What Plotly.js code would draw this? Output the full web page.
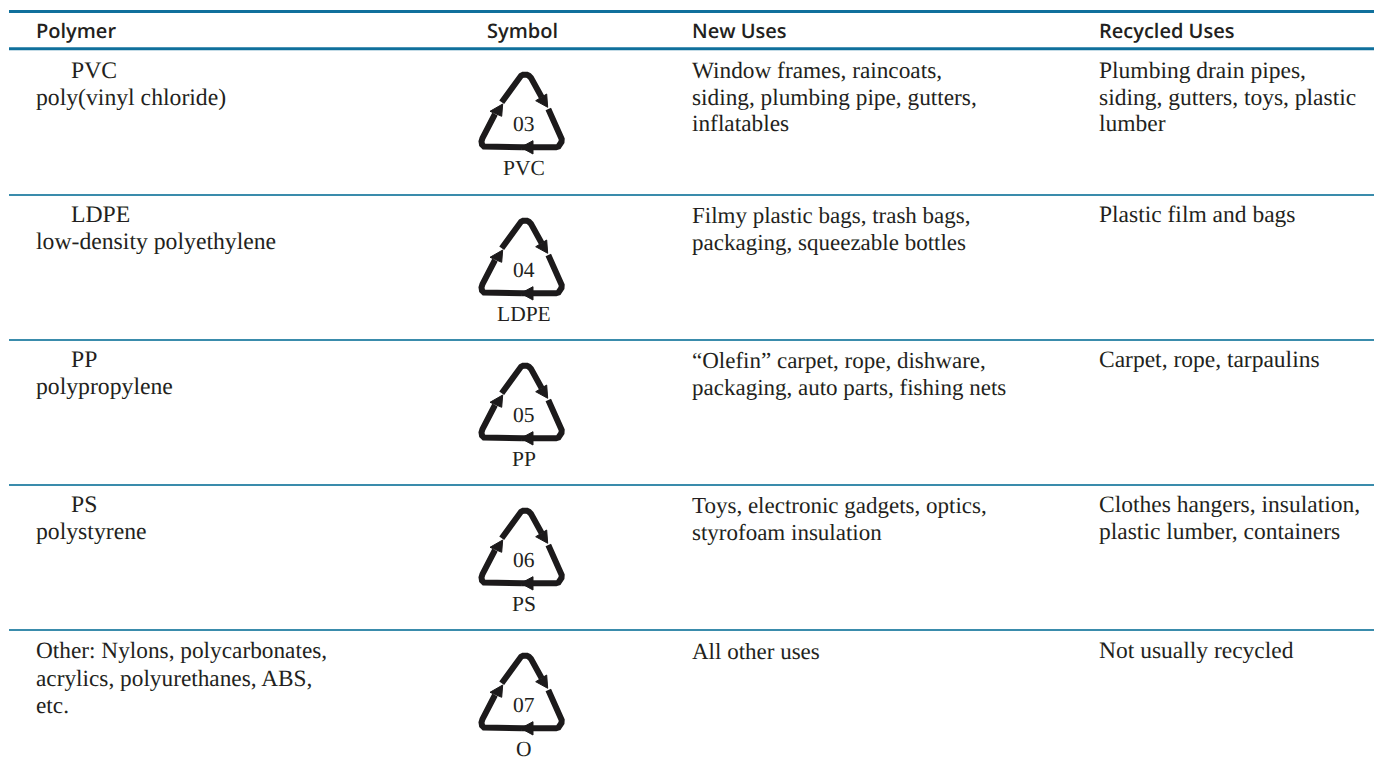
<!DOCTYPE html>
<html><head><meta charset="utf-8">
<script src="https://cdn.plot.ly/plotly-3.0.1.min.js"></script>
<style>html,body{margin:0;padding:0;background:#fff}#c{width:1374px;height:770px}svg text{text-rendering:geometricPrecision}</style>
</head><body><div id="c"></div>
<script>
const headers = ["Polymer","Symbol","New Uses","Recycled Uses"];
const polymerLines = [["PVC","poly(vinyl chloride)"],["LDPE","low-density polyethylene"],["PP","polypropylene"],["PS","polystyrene"],["Other: Nylons, polycarbonates,","acrylics, polyurethanes, ABS,","etc."]];
const codes = ["03","04","05","06","07"];
const abbrevs = ["PVC","LDPE","PP","PS","O"];
const newUses = [["Window frames, raincoats,","siding, plumbing pipe, gutters,","inflatables"],["Filmy plastic bags, trash bags,","packaging, squeezable bottles"],["“Olefin” carpet, rope, dishware,","packaging, auto parts, fishing nets"],["Toys, electronic gadgets, optics,","styrofoam insulation"],["All other uses"]];
const recycledUses = [["Plumbing drain pipes,","siding, gutters, toys, plastic","lumber"],["Plastic film and bags"],["Carpet, rope, tarpaulins"],["Clothes hangers, insulation,","plastic lumber, containers"],["Not usually recycled"]];

const colX = [36,522,692,1099];
const symX = 524, symTextX = 523.5;
const rowTop = [49,195,340,485,630];
const startY = [22,20,20,20,21];
const stepY = [26.5,27,27,27,27.5];
const ruleColor = "#10709c", rowRule = "#3a8cac", ink = "#231f20";
const serif = "'Liberation Serif', serif", sans = "'Open Sans', sans-serif";

// recycling symbol drawn relative to (symbol centre, row top)
const seg1 = [[-22.3,53.3],[-5,28.5],[-3,26.8],[-1,25.8],[1,25.5],[3,25.8],[5,26.8],[7,28.8],[17.7,48.3]];
const seg2 = [[24.3,60],[36.7,86.7],[37.7,90],[37.5,93],[36.3,95.5],[34.5,97.5],[32,98.3],[-2,98.3]];
const seg3 = [[-2,98.3],[-37,98.3],[-40,97.5],[-42,95.5],[-42.5,92.5],[-41.5,89],[-29,65]];
const heads = [[[23.7,58.3],[11.7,51.7],[22.7,45]],[[-3.3,98.3],[9,91.7],[9,105]],[[-21.3,55],[-34,62.3],[-22.3,67.3]]];

const traces = [];
const annos = [];
function txt(x,y,s,f,anchor){annos.push({x:x,y:y,text:s,xref:"x",yref:"y",showarrow:false,xanchor:anchor||"left",yanchor:"middle",borderpad:0,borderwidth:0,font:f});}
const face = (size)=>({family:serif,size:size,color:ink});
const symF = face(21.5);
const headF = {family:sans,size:20,color:ink,weight:600};

headers.forEach((h,i)=>txt(colX[i],30,h,headF,i==1?"center":"left"));

rowTop.forEach((top,r)=>{
  [seg1,seg2,seg3].forEach(s=>traces.push({type:"scatter",mode:"lines",x:s.map(p=>symX+p[0]),y:s.map(p=>top+p[1]),line:{color:"#1c1a1b",width:6},hoverinfo:"skip"}));
  heads.forEach(s=>traces.push({type:"scatter",mode:"lines",fill:"toself",fillcolor:"#1c1a1b",x:s.concat([s[0]]).map(p=>symX+p[0]),y:s.concat([s[0]]).map(p=>top+p[1]),line:{color:"#1c1a1b",width:1},hoverinfo:"skip"}));
  txt(symTextX,top+75,codes[r],symF,"center");
  txt(symTextX,top+118.5,abbrevs[r],symF,"center");
  polymerLines[r].forEach((s,i)=>{
    const indent = (r<4 && i==0)?35:0;
    txt(colX[0]+indent,top+startY[r]+i*stepY[r],s,face(r==4?23.3:23.7));
  });
  newUses[r].forEach((s,i)=>txt(colX[2],top+startY[r]+i*stepY[r],s,face(r==0?23.3:23)));
  recycledUses[r].forEach((s,i)=>txt(colX[3],top+startY[r]+i*stepY[r],s,face(23.5)));
});

const rule=(y,w,c)=>({type:"line",xref:"x",yref:"y",x0:9,x1:1374,y0:y,y1:y,line:{color:c,width:w}});
const shapes=[rule(11.5,3,ruleColor),rule(48.8,3,ruleColor)].concat(rowTop.slice(1).map(y=>rule(y,1.8,rowRule)));

Plotly.newPlot("c",traces,{
  width:1374,height:770,margin:{l:0,r:0,t:0,b:0},showlegend:false,
  paper_bgcolor:"#fff",plot_bgcolor:"#fff",
  xaxis:{range:[0,1374],visible:false,fixedrange:true},
  yaxis:{range:[770,0],visible:false,fixedrange:true},
  shapes:shapes,annotations:annos
},{displayModeBar:false,staticPlot:true});
</script></body></html>
